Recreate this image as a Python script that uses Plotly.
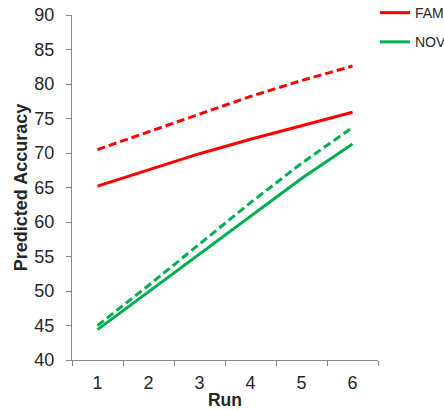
import plotly.graph_objects as go

runs = ["1", "2", "3", "4", "5", "6"]
fam_solid = [65.2, 67.6, 69.9, 72.0, 74.0, 75.9]
fam_dash = [70.5, 73.1, 75.7, 78.2, 80.5, 82.6]
nov_solid = [44.4, 49.9, 55.4, 60.9, 66.3, 71.3]
nov_dash = [45.0, 50.8, 56.8, 62.8, 68.5, 73.7]

RED = "#FF0000"
GREEN = "#00B050"
GRAY = "#868686"
TXT = "#262626"

fig = go.Figure()
fig.add_trace(go.Scatter(x=runs, y=fam_solid, mode="lines", name="FAM", legendgroup="a",
                         line=dict(color=RED, width=3)))
fig.add_trace(go.Scatter(x=runs, y=nov_solid, mode="lines", name="NOV", legendgroup="b",
                         line=dict(color=GREEN, width=3)))
fig.add_trace(go.Scatter(x=runs, y=fam_dash, mode="lines", showlegend=False,
                         line=dict(color=RED, width=3, dash="8px,4px")))
fig.add_trace(go.Scatter(x=runs, y=nov_dash, mode="lines", showlegend=False,
                         line=dict(color=GREEN, width=3, dash="8px,4px")))

fig.update_layout(
    width=444, height=410,
    margin=dict(l=72, r=66, t=15, b=50, autoexpand=False),
    plot_bgcolor="white", paper_bgcolor="white",
    font=dict(family="Liberation Sans, Arial, sans-serif", color=TXT),
    showlegend=True,
    legend=dict(x=0.99, xanchor="left", y=1.052, yanchor="top",
                font=dict(size=14, color=TXT),
                bgcolor="rgba(0,0,0,0)", tracegroupgap=8),
    xaxis=dict(type="category", range=[-0.5, 5.5], tickson="boundaries",
               ticks="outside", ticklen=5, tickcolor=GRAY,
               showline=True, linecolor=GRAY, linewidth=1,
               showgrid=False, zeroline=False, ticklabelstandoff=6,
               tickfont=dict(size=18, color=TXT),
               title=dict(text="<b>Run</b>", font=dict(size=17.5, color=TXT), standoff=5)),
    yaxis=dict(range=[40, 90], dtick=5, ticks="outside", ticklen=5, tickcolor=GRAY,
               showline=True, linecolor=GRAY, linewidth=1,
               showgrid=False, zeroline=False, ticklabelstandoff=8,
               tickfont=dict(size=18, color=TXT),
               title=dict(text="<b>Predicted Accuracy</b>", font=dict(size=18, color=TXT), standoff=2)),
)

fig.write_html("out.html")
